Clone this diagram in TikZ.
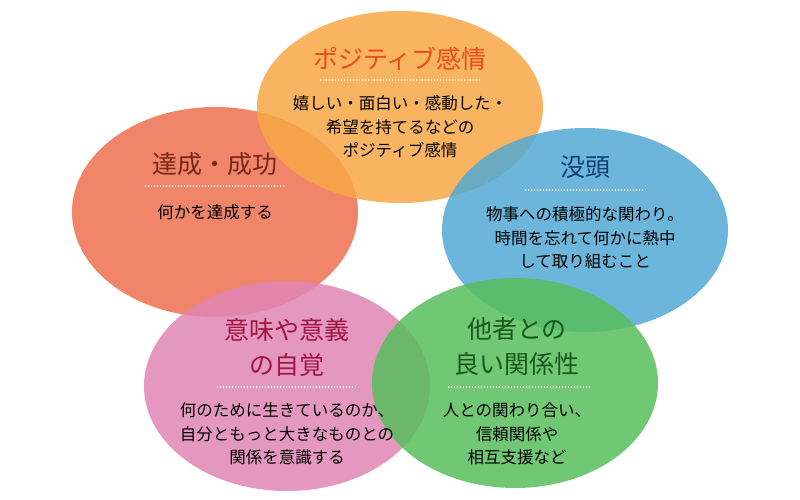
\documentclass[tikz,border=0pt]{standalone}
\usepackage{fontspec}
\setmainfont{Noto Sans CJK JP}
\begin{document}
\begin{tikzpicture}[x=1pt,y=-1pt,
  blob/.style={fill opacity=0.85,draw=none},
  ttl/.style={font=\fontsize{25}{35}\selectfont,align=center,inner sep=0},
  bdy/.style={font=\fontsize{16.5}{23.5}\selectfont,align=center,inner sep=0,text=black},
  dotline/.style={white,line width=1.4pt,dash pattern=on 1.4pt off 1.6pt}]
\useasboundingbox (0,0) rectangle (800,500);
\fill[white] (0,0) rectangle (800,500);
\fill[blob,fill={rgb,255:red,238;green,112;blue,80}] (215,212) ellipse [x radius=143,y radius=105];
\fill[blob,fill={rgb,255:red,248;green,168;blue,70}] (400,107) ellipse [x radius=143,y radius=96];
\fill[blob,fill={rgb,255:red,82;green,170;blue,212}] (585,230) ellipse [x radius=143,y radius=102];
\fill[blob,fill={rgb,255:red,224;green,134;blue,180}] (287,386) ellipse [x radius=143,y radius=105];
\fill[blob,fill={rgb,255:red,88;green,190;blue,92}] (515,383) ellipse [x radius=143,y radius=105];
% orange
\node[ttl,text={rgb,255:red,235;green,75;blue,20}] (t1) at (400,59) {ポジティブ感情};
\coordinate (a1) at (320,80); \coordinate (b1) at (482,80);
\draw[dotline] (a1) -- (b1);
\node[bdy] (b1t) at (400,127) {嬉しい・面白い・感動した・\\希望を持てるなどの\\ポジティブ感情};
% red
\node[ttl,text={rgb,255:red,120;green,40;blue,20}] (t2) at (215,164) {達成・成功};
\coordinate (a2) at (145,186); \coordinate (b2) at (285,186);
\draw[dotline] (a2) -- (b2);
\node[bdy] (b2t) at (215,212) {何かを達成する};
% blue
\node[ttl,text={rgb,255:red,20;green,60;blue,120}] (t3) at (585,167) {没頭};
\coordinate (a3) at (525,190); \coordinate (b3) at (645,190);
\draw[dotline] (a3) -- (b3);
\node[bdy] (b3t) at (585,238) {物事への積極的な関わり。\\時間を忘れて何かに熱中\\して取り組むこと};
% pink
\node[ttl,text={rgb,255:red,160;green,20;blue,70}] (t4) at (287,347) {意味や意義\\の自覚};
\coordinate (a4) at (217,387); \coordinate (b4) at (355,387);
\draw[dotline] (a4) -- (b4);
\node[bdy] (b4t) at (287,434) {何のために生きているのか、\\自分ともっと大きなものとの\\関係を意識する};
% green
\node[ttl,text={rgb,255:red,20;green,90;blue,25}] (t5) at (517,347) {他者との\\良い関係性};
\coordinate (a5) at (448,387); \coordinate (b5) at (590,387);
\draw[dotline] (a5) -- (b5);
\node[bdy] (b5t) at (517,434) {人との関わり合い、\\信頼関係や\\相互支援など};
\end{tikzpicture}
\end{document}
